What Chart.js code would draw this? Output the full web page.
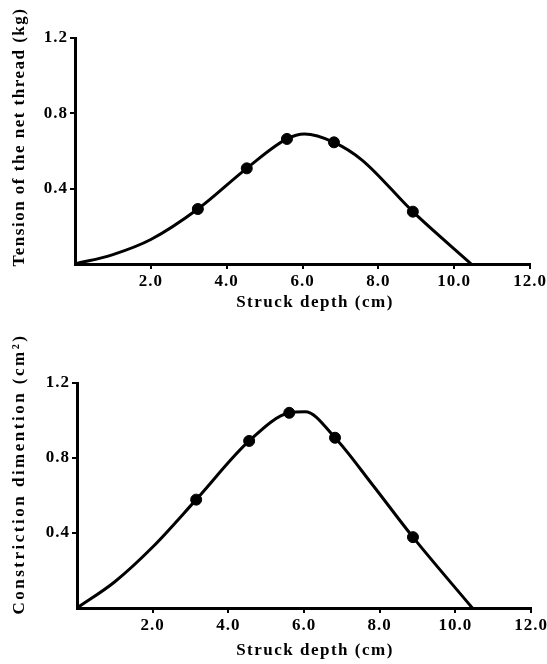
<!DOCTYPE html>
<html>
<head>
<meta charset="utf-8">
<script src="https://cdn.jsdelivr.net/npm/chart.js@4/dist/chart.umd.min.js"></script>
<style>
    body { margin: 0; background: #fff; }
    canvas { display: block; }
</style>
</head>
<body>
<canvas id="tension" width="547" height="332"></canvas>
<canvas id="constriction" width="547" height="332"></canvas>
<script>
//Datos
var xTicks = [2, 4, 6, 8, 10, 12];
var yTicks = [0.4, 0.8, 1.2];

//Curva superior: tension del hilo (kg)
var tensionCurveX = [0, 1.0, 2.0, 3.24, 4.53, 5.59, 6.05, 6.83, 7.57, 8.91, 10.45];
var tensionCurveY = [0, 0.05, 0.13, 0.292, 0.508, 0.664, 0.69, 0.646, 0.552, 0.278, 0];
var tensionPointX = [3.24, 4.53, 5.59, 6.83, 8.91];
var tensionPointY = [0.292, 0.508, 0.664, 0.646, 0.278];

//Curva inferior: dimension de constriccion (cm2)
var constrCurveX = [0, 1.0, 2.0, 3.15, 4.55, 5.61, 6.03, 6.82, 7.8, 8.88, 10.45];
var constrCurveY = [0, 0.14, 0.325, 0.578, 0.891, 1.041, 1.047, 0.908, 0.66, 0.378, 0];
var constrPointX = [3.15, 4.55, 5.61, 6.82, 8.88];
var constrPointY = [0.578, 0.891, 1.041, 0.908, 0.378];

var tickFont = { family: '"Liberation Serif", serif', size: 17, weight: 'bold' };

//Plugin para los titulos de los ejes con espaciado entre letras
var axisTitles = {
    id: 'axisTitles',
    beforeUpdate: function(chart) { chart.ctx.letterSpacing = '1px'; },
    beforeDraw: function(chart) { chart.ctx.letterSpacing = '1px'; },
    afterDraw: function(chart, args, opts) {
        var ctx = chart.ctx;
        ctx.save();
        ctx.font = 'bold 17px "Liberation Serif", serif';
        ctx.fillStyle = '#000';
        ctx.textAlign = 'center';
        ctx.textBaseline = 'middle';
        ctx.letterSpacing = '1.5px';
        ctx.fillText(opts.xText, opts.xPos[0], opts.xPos[1]);
        ctx.letterSpacing = opts.ySpacing;
        ctx.translate(opts.yPos[0], opts.yPos[1]);
        ctx.rotate(-Math.PI / 2);
        ctx.fillText(opts.yText, 0, 0);
        ctx.restore();
    }
};

function toPoints(x, y) {
    var pts = [];
    for (var i = 0; i < x.length; i++) {
        pts.push({ x: x[i], y: y[i] });
    }
    return pts;
}

function hideZero(ctx) {
    return ctx.tick && ctx.tick.value === 0 ? 'rgba(0,0,0,0)' : '#000';
}

function graficoCurva(canvas, curveX, curveY, pointX, pointY, box, titles) {
    var context = document.getElementById(canvas);
    return new Chart(context, {
        type: 'scatter',
        data: {
            datasets: [
                {
                    data: toPoints(curveX, curveY),
                    showLine: true,
                    borderColor: '#000',
                    borderWidth: 3,
                    pointRadius: 0,
                    cubicInterpolationMode: 'monotone'
                },
                {
                    data: toPoints(pointX, pointY),
                    showLine: false,
                    backgroundColor: '#000',
                    borderColor: '#000',
                    pointRadius: 5.5
                }
            ]
        },
        options: {
            responsive: false,
            animation: false,
            devicePixelRatio: 1,
            layout: { padding: { top: box.top, right: box.right, left: 0, bottom: 0 } },
            plugins: {
                legend: { display: false },
                tooltip: { enabled: false },
                axisTitles: titles
            },
            scales: {
                x: {
                    type: 'linear',
                    min: 0,
                    max: 12,
                    afterFit: function(scale) {
                        scale.height = box.xHeight;
                        scale.paddingRight = 0;
                        scale.paddingLeft = 0;
                    },
                    afterBuildTicks: function(scale) {
                        scale.ticks = [{ value: 0 }].concat(xTicks.map(function(v) { return { value: v }; }));
                    },
                    ticks: {
                        color: '#000',
                        font: tickFont,
                        padding: 2,
                        maxRotation: 0,
                        callback: function(v) { return v === 0 ? '' : v.toFixed(1); }
                    },
                    grid: { drawOnChartArea: false, tickLength: 5, lineWidth: 2, color: hideZero },
                    border: { color: '#000', width: 3 }
                },
                y: {
                    min: 0,
                    max: 1.2,
                    afterFit: function(scale) {
                        scale.width = box.yWidth;
                        scale.paddingTop = 0;
                        scale.paddingBottom = 0;
                    },
                    afterBuildTicks: function(scale) {
                        scale.ticks = [{ value: 0 }].concat(yTicks.map(function(v) { return { value: v }; }));
                    },
                    ticks: {
                        color: '#000',
                        font: tickFont,
                        padding: 2,
                        callback: function(v) { return v === 0 ? '' : v.toFixed(1); }
                    },
                    grid: { drawOnChartArea: false, tickLength: 5, lineWidth: 2, color: hideZero },
                    border: { color: '#000', width: 3 }
                }
            }
        },
        plugins: [axisTitles]
    });
}

graficoCurva('tension', tensionCurveX, tensionCurveY, tensionPointX, tensionPointY,
    { top: 38, right: 17, yWidth: 75, xHeight: 68 },
    { xText: 'Struck depth (cm)', xPos: [315, 303], yText: 'Tension of the net thread (kg)', yPos: [20, 137], ySpacing: '1.5px' });

graficoCurva('constriction', constrCurveX, constrCurveY, constrPointX, constrPointY,
    { top: 51, right: 16, yWidth: 77, xHeight: 56 },
    { xText: 'Struck depth (cm)', xPos: [315, 319], yText: 'Constriction dimention (cm²)', yPos: [20, 142], ySpacing: '2.5px' });
</script>
</body>
</html>
